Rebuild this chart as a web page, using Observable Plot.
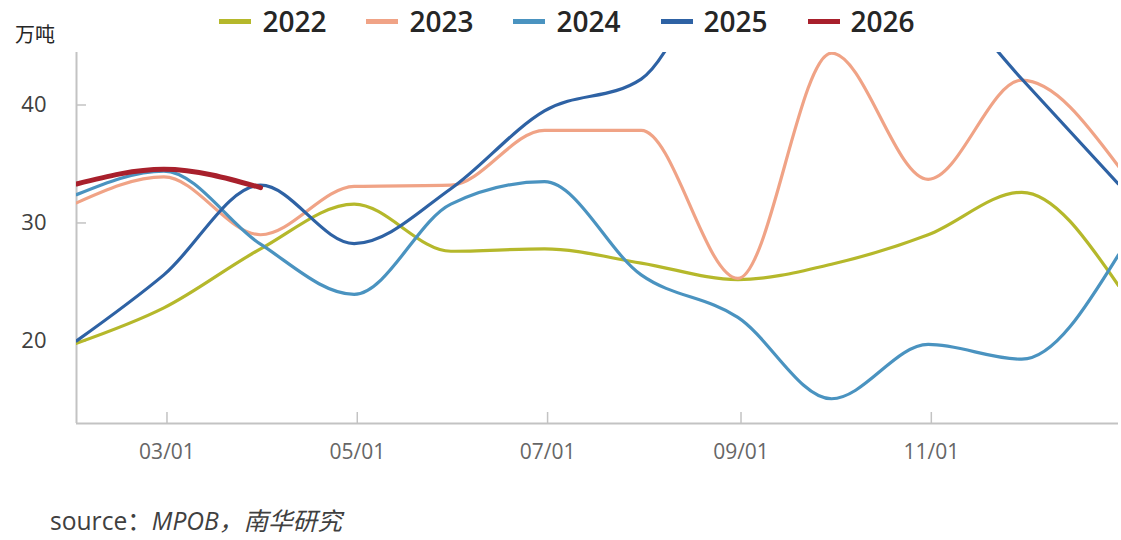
<!DOCTYPE html>
<html><head><meta charset="utf-8">
<script src="https://cdn.jsdelivr.net/npm/d3@7"></script>
<script src="https://cdn.jsdelivr.net/npm/@observablehq/plot@0.6"></script>
<style>
body{margin:0;background:#fff;font-family:"Open Sans","Noto Sans CJK SC",sans-serif;}
#wrap{width:1121px;position:relative;}
#header{position:relative;height:42px;}
#legend{position:absolute;left:13px;right:0;top:0;height:42px;display:flex;justify-content:center;align-items:center;gap:40px;}
.item{display:flex;align-items:center;gap:11px;font-size:28px;font-weight:600;color:#262626;}
.sw{width:32px;height:5px;}
#unit{position:absolute;left:15px;top:22px;font-size:20px;line-height:26px;color:#262626;}
#caption{height:38px;line-height:38px;padding-left:50px;font-size:24.6px;color:#404040;}
#caption i{font-style:italic;}
</style></head><body>
<div id="wrap">
<div id="header"><div id="legend"></div><div id="unit">万吨</div></div>
<div id="chart"></div>
<div id="caption">source：<i>MPOB，南华研究</i></div>
</div>
<script>
// month-end dates (common year)
const monthEnds = ["01-31","02-28","03-31","04-30","05-31","06-30","07-31","08-31","09-30","10-31","11-30","12-31"];
const years = ["2022","2023","2024","2025","2026"];
const y2022 = [19.8, 22.8, 27.8, 31.6, 27.6, 27.8, 26.6, 25.2, 26.5, 29.0, 32.6, 24.7];
const y2023 = [31.7, 33.9, 29.0, 33.1, 33.2, 37.85, 37.85, 25.3, 44.4, 33.7, 42.1, 34.8];
const y2024 = [32.4, 34.4, 28.2, 23.95, 31.6, 33.5, 25.6, 22.0, 15.1, 19.7, 18.45, 27.3];
const y2025 = [20.0, 25.6, 33.2, 28.25, 32.9, 39.5, 42.2, 54.0, 56.0, 51.0, 42.2, 33.3];
const y2026 = [33.3, 34.55, 33.0];
const colors = ["#b5b82b","#f0a386","#4a93c0","#2e62a4","#a8202c"];
const widths = [3.2,3.2,3.2,3.2,5];
const xTickLabels = ["03/01","05/01","07/01","09/01","11/01"];
const yTicks = [20,30,40];
const yDomain = [13, 44.45];

const parse = s => new Date("2001-" + s + "T00:00:00Z");
const dates = monthEnds.map(parse);
const xTicks = xTickLabels.map(s => parse(s.replace("/","-")));
const series = [y2022,y2023,y2024,y2025,y2026];
const rows = [];
series.forEach((arr, i) => arr.forEach((v, j) => rows.push({year: years[i], date: dates[j], value: v})));

// legend
const lg = document.getElementById("legend");
years.forEach((y, i) => {
  const it = document.createElement("div"); it.className = "item";
  const sw = document.createElement("div"); sw.className = "sw"; sw.style.background = colors[i];
  const tx = document.createElement("span"); tx.textContent = y;
  it.appendChild(sw); it.appendChild(tx); lg.appendChild(it);
});

const W = 1121, H = 460, mL = 76, mR = 3, mT = 10, mB = 79;
const frameW = W - mL - mR, frameH = H - mT - mB;

const marks = [
  Plot.ruleY([yDomain[0]], {stroke: "#c3c3c3", strokeWidth: 2}),
  Plot.ruleX([dates[0]], {stroke: "#c3c3c3", strokeWidth: 2}),
  Plot.ruleX(xTicks, {x: d => d, stroke: "#c3c3c3", strokeWidth: 1.5, insetTop: frameH - 11}),
  Plot.ruleY(yTicks, {y: d => d, stroke: "#c3c3c3", strokeWidth: 1.5, insetRight: frameW - 10}),
  Plot.axisX({ticks: xTicks, tickFormat: d => xTickLabels[xTicks.findIndex(t => +t === +d)], tickSize: 0, tickPadding: 21, fontSize: 21, fill: "#666", letterSpacing: 1.2}),
  Plot.axisY({ticks: yTicks, tickSize: 0, tickPadding: 30, fontSize: 22, fill: "#404040", label: null})
];
years.forEach((y, i) => {
  marks.push(Plot.line(rows.filter(r => r.year === y), {
    x: "date", y: "value", stroke: colors[i], strokeWidth: widths[i],
    curve: "monotone-x", clip: true
  }));
});

const chart = Plot.plot({
  width: W, height: H,
  marginLeft: mL, marginRight: mR, marginTop: mT, marginBottom: mB,
  x: {type: "utc", domain: [dates[0], dates[11]], label: null},
  y: {domain: yDomain, label: null},
  style: {fontFamily: '"Open Sans","Noto Sans CJK SC",sans-serif', background: "#fff"},
  marks
});
document.getElementById("chart").appendChild(chart);
</script>
</body></html>
